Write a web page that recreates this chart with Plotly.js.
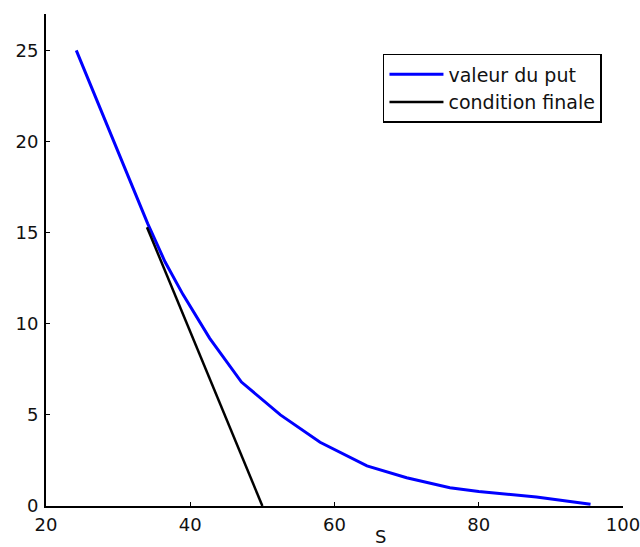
<!DOCTYPE html>
<html>
<head>
<meta charset="utf-8">
<script src="https://cdn.plot.ly/plotly-3.0.1.min.js"></script>
<style>html,body{margin:0;padding:0;background:#fff;}#chart{width:640px;height:547px;}</style>
</head>
<body>
<div id="chart"></div>
<script>
// Put value (blue)
const putS = [24.2, 28, 31.6, 34.1, 36.5, 39.0, 42.7, 47.1, 52.5, 58, 64.5, 70, 76, 80, 88, 95.5];
const putV = [25, 21.4, 17.9, 15.5, 13.4, 11.6, 9.2, 6.8, 5.0, 3.5, 2.2, 1.55, 1.0, 0.8, 0.5, 0.1];
// Final condition (black)
const finS = [34, 50];
const finV = [15.3, 0];
const xTicks = [20, 40, 60, 80, 100];
const yTicks = [0, 5, 10, 15, 20, 25];
const names = ['valeur du put', 'condition finale'];

const font = 'DejaVu Sans, sans-serif';
const data = [
  {x: putS, y: putV, type: 'scatter', mode: 'lines', name: names[0], legendgroup: 'a',
   line: {color: 'rgb(0,0,255)', width: 3}},
  {x: finS, y: finV, type: 'scatter', mode: 'lines', name: names[1], legendgroup: 'b',
   line: {color: 'black', width: 2.5}}
];
const axisBase = {
  showline: true, linecolor: 'black', linewidth: 2, mirror: false,
  ticks: 'inside', ticklen: 4, tickwidth: 1, tickcolor: 'black',
  showgrid: false, zeroline: false, ticklabeloverflow: 'allow',
  tickfont: {family: font, size: 18, color: '#111'}
};
const layout = {
  width: 640, height: 547,
  margin: {l: 46, r: 17, t: 14, b: 41},
  paper_bgcolor: 'white', plot_bgcolor: 'white',
  showlegend: true,
  legend: {x: 0.584, y: 0.919, xanchor: 'left', yanchor: 'top',
    bordercolor: 'black', borderwidth: 1.5, bgcolor: 'white',
    itemwidth: 54, traceorder: 'grouped', tracegroupgap: 0,
    font: {family: font, size: 19, color: '#111'}},
  xaxis: Object.assign({}, axisBase, {range: [20, 100], tickvals: xTicks, ticklabelstandoff: 1}),
  yaxis: Object.assign({}, axisBase, {range: [0, 27], tickvals: yTicks, ticklabelstandoff: 2}),
  annotations: [{text: 'S', xref: 'paper', yref: 'paper', x: 0.58, y: -0.062,
    xanchor: 'center', yanchor: 'middle', showarrow: false,
    font: {family: font, size: 18, color: '#111'}}]
};
Plotly.newPlot('chart', data, layout, {displayModeBar: false, staticPlot: true});
</script>
</body>
</html>
